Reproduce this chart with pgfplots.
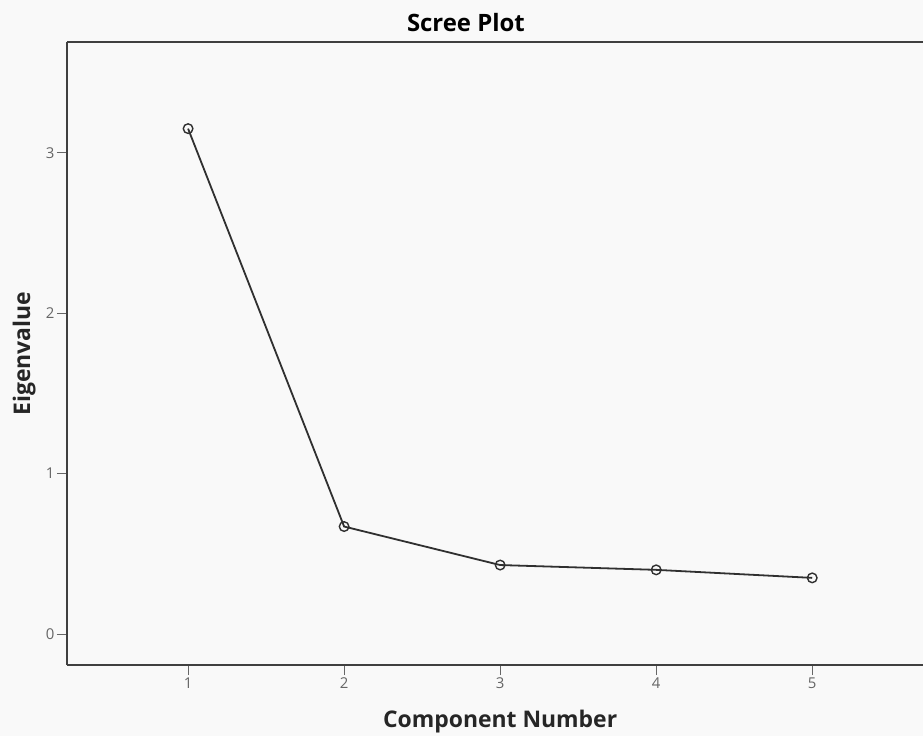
\documentclass[border=0pt]{standalone}
\usepackage{pgfplots}
\pgfplotsset{compat=1.18}
\usepackage{fontspec}
\setmainfont{Open Sans}
\usetikzlibrary{backgrounds}
\definecolor{bgc}{HTML}{F9F9F9}
\definecolor{linec}{HTML}{303030}
\begin{document}
\begin{tikzpicture}
\begin{axis}[
  name=ax,
  scale only axis,
  width=856bp, height=623bp,
  xmin=0.224, xmax=5.71,
  ymin=-0.193, ymax=3.69,
  xtick={1,2,3,4,5},
  ytick={0,1,2,3},
  axis x line=box, axis y line=left,
  axis line style={-, draw=black!75, line width=1.6bp},
  xtick pos=bottom, ytick pos=left,
  tick align=outside,
  major tick length=10bp,
  tick style={black!60, line width=1bp},
  ticklabel style={font=\fontsize{15}{15}\selectfont, text=black!60},
  xticklabel style={yshift=1bp},
  yticklabel style={xshift=1bp},
  /pgf/number format/assume math mode=true,
  title={Scree Plot},
  title style={font=\bfseries\fontsize{24}{24}\selectfont, at={(axis description cs:0.466,1)}, anchor=base, yshift=5bp},
  xlabel={Component Number},
  xlabel style={font=\bfseries\fontsize{23}{23}\selectfont, at={(axis description cs:0.506,0)}, anchor=base, yshift=-62bp},
  ylabel={Eigenvalue},
  ylabel style={font=\bfseries\fontsize{23}{23}\selectfont, at={(axis description cs:-0.0432,0.5)}, anchor=base},
  label style={text=black!85},
]
\addplot[color=linec, line width=1.8bp, mark=o, mark size=4.8bp, mark options={line width=1.4bp}]
  coordinates {(1,3.15) (2,0.67) (3,0.43) (4,0.40) (5,0.35)};
\end{axis}
\begin{scope}[on background layer]
  \fill[bgc] ([xshift=-67bp,yshift=-71bp]ax.south west) rectangle ([yshift=42bp]ax.north east);
\end{scope}
\pgfresetboundingbox
\path[use as bounding box] ([xshift=-67bp,yshift=-71bp]ax.south west) rectangle ([yshift=42bp]ax.north east);
\end{tikzpicture}
\end{document}
